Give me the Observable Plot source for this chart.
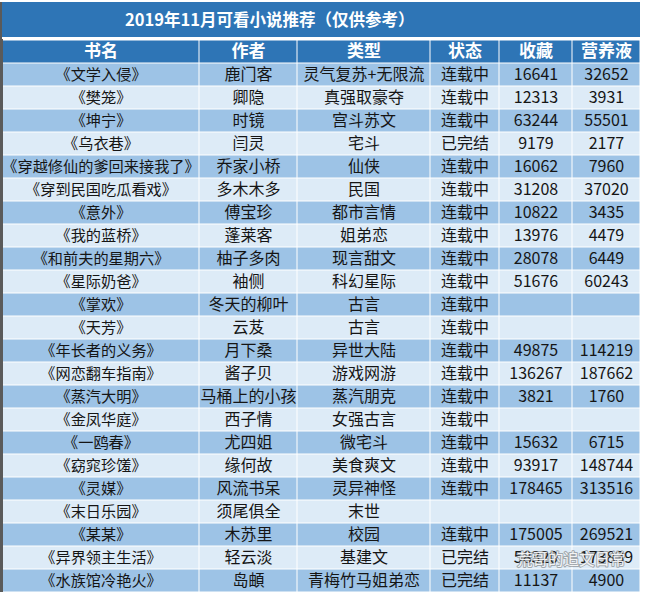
<!DOCTYPE html>
<html><head><meta charset="utf-8">
<script src="https://cdn.jsdelivr.net/npm/d3@7"></script>
<script src="https://cdn.jsdelivr.net/npm/@observablehq/plot@0.6"></script>
<style>
body{margin:0;background:#fff;font-family:"Noto Sans CJK SC","Noto Sans",sans-serif;}
#wrap{margin-top:2px;border-left:2px solid #5a5a5a;width:645px;}
#title{width:638px;height:35px;line-height:35px;background:#2E75B6;color:#fff;font-weight:bold;font-size:16.5px;text-align:left;box-sizing:border-box;padding-left:123px;}
#chart svg{display:block;margin-top:0;}
</style></head><body>
<div id="wrap"><div id="title">2019年11月可看小说推荐（仅供参考）</div><div id="chart"></div></div>
<script>
const headers = ["书名","作者","类型","状态","收藏","营养液"];
const titles = ["《文学入侵》","《樊笼》","《坤宁》","《乌衣巷》","《穿越修仙的爹回来接我了》","《穿到民国吃瓜看戏》","《意外》","《我的蓝桥》","《和前夫的星期六》","《星际奶爸》","《掌欢》","《天芳》","《年长者的义务》","《网恋翻车指南》","《蒸汽大明》","《金凤华庭》","《一鸥春》","《窈窕珍馐》","《灵媒》","《末日乐园》","《某某》","《异界领主生活》","《水族馆冷艳火》"];
const authors = ["鹿门客","卿隐","时镜","闫灵","乔家小桥","多木木多","傅宝珍","蓬莱客","柚子多肉","袖侧","冬天的柳叶","云芨","月下桑","酱子贝","马桶上的小孩","西子情","尤四姐","缘何故","风流书呆","须尾俱全","木苏里","轻云淡","岛頔"];
const genres = ["灵气复苏+无限流","真强取豪夺","宫斗苏文","宅斗","仙侠","民国","都市言情","姐弟恋","现言甜文","科幻星际","古言","古言","异世大陆","游戏网游","蒸汽朋克","女强古言","微宅斗","美食爽文","灵异神怪","末世","校园","基建文","青梅竹马姐弟恋"];
const statuses = ["连载中","连载中","连载中","已完结","连载中","连载中","连载中","连载中","连载中","连载中","连载中","连载中","连载中","连载中","连载中","连载中","连载中","连载中","连载中","","连载中","已完结","已完结"];
const favorites = [16641,12313,63244,9179,16062,31208,10822,13976,28078,51676,null,null,49875,136267,3821,null,15632,93917,178465,null,175005,58320,11137];
const nutrients = [32652,3931,55501,2177,7960,37020,3435,4479,6449,60243,null,null,114219,187662,1760,null,6715,148744,313516,null,269521,173839,4900];
const watermark = "荒哥的追文日常";

// layout (column widths in px)
const colWidths = [197, 98, 133, 69, 73, 68];
const edges = [0];
colWidths.forEach(w => edges.push(edges[edges.length-1] + w));
const total = edges[edges.length-1];

const cells = [];
headers.forEach((h, c) => cells.push({r: 0, c, text: h}));
titles.forEach((t, i) => {
  const vals = [t, authors[i], genres[i], statuses[i],
    favorites[i] == null ? "" : String(favorites[i]),
    nutrients[i] == null ? "" : String(nutrients[i])];
  vals.forEach((v, c) => cells.push({r: i + 1, c, text: v}));
});
const bg = d => d.r === 0 ? "#2E75B6" : (d.r % 2 === 1 ? "#9DC3E6" : "#DDEBF7");
const cx = d => (edges[d.c] + edges[d.c+1]) / 2;
const body = cells.filter(d => d.r > 0 && d.text !== "");

const chart = Plot.plot({
  width: 645, height: 555,
  marginLeft: 0, marginRight: 7, marginTop: 2, marginBottom: 0,
  x: {domain: [0, total], axis: null},
  y: {type: "band", domain: d3.range(titles.length + 1), padding: 0, axis: null},
  color: {type: "identity"},
  style: {fontFamily: '"Noto Sans CJK SC","Noto Sans",sans-serif', background: "#fff"},
  marks: [
    Plot.barX(cells, {x1: d => edges[d.c], x2: d => edges[d.c+1], y: "r", fill: bg,
      insetLeft: 0.5, insetRight: 0.5, insetTop: 0.5, insetBottom: 0.5}),
    Plot.ruleX([edges[0]], {stroke: "#5a5a5a", strokeWidth: 1}),
    Plot.text(cells.filter(d => d.r === 0), {x: cx, y: "r", text: "text", fill: "#fff",
      fontSize: 17, fontWeight: "bold"}),
    Plot.text(body.filter(d => d.c === 0), {x: cx, y: "r", text: "text", fill: "#151515",
      fontSize: 15.2}),
    Plot.text(body.filter(d => d.c > 0), {x: cx, y: "r", text: "text", fill: "#151515",
      fontSize: 16}),
    Plot.text([watermark], {frameAnchor: "bottom-right", dx: -15, dy: -28, textAnchor: "end",
      fill: "#fff", fillOpacity: 0.9, stroke: "#666", strokeOpacity: 0.5, strokeWidth: 2,
      fontSize: 15.5})
  ]
});
document.getElementById("chart").appendChild(chart);
</script>
</body></html>
